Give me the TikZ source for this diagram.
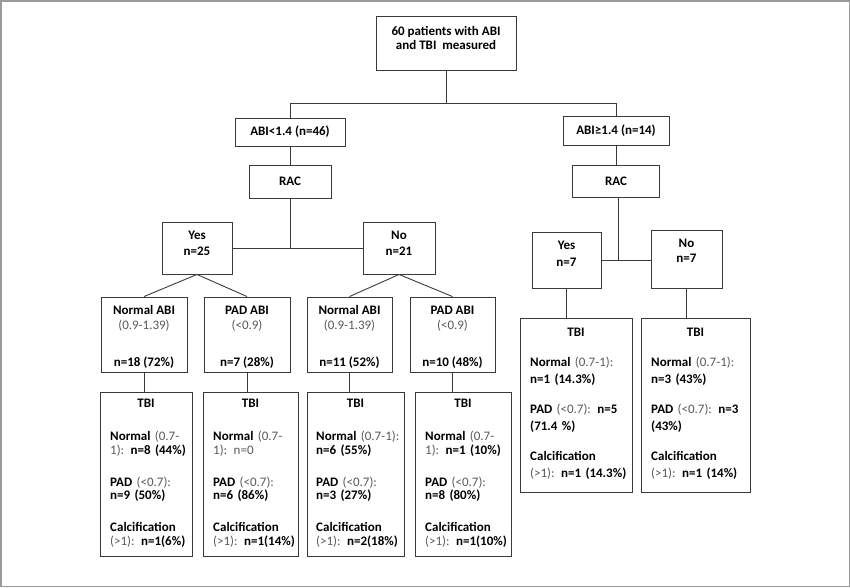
\documentclass[tikz,border=0pt]{standalone}
\usepackage{fontspec}
\setmainfont{Carlito}
\definecolor{txtgray}{HTML}{595959}
\definecolor{linec}{HTML}{3A3A3A}
\definecolor{framec}{HTML}{9A9A9A}
\newcommand{\rg}[1]{{\mdseries\color{txtgray}#1}}
\tikzset{
  box/.style={draw=linec, line width=0.9pt, inner sep=0pt, font=\fontsize{13}{14}\selectfont\bfseries},
  conn/.style={draw=linec, line width=0.9pt},
  lbl/.style={inner sep=0pt, align=center, anchor=north, font=\fontsize{13}{14}\selectfont\bfseries},
  hdr/.style={inner sep=0pt, anchor=base, font=\fontsize{13}{14}\selectfont\bfseries},
  body/.style={inner sep=0pt, align=left, anchor=north west, font=\fontsize{13}{13.5}\selectfont\bfseries},
  bodyr/.style={inner sep=0pt, align=left, anchor=north west, font=\fontsize{13}{17}\selectfont\bfseries},
}
\begin{document}
\begin{tikzpicture}[x=1pt,y=-1pt]
\useasboundingbox (0,0) rectangle (850,587);
\draw[framec, line width=1.5pt] (0.75,0.75) rectangle (849.25,586.25);

% top
\node[box, minimum width=140pt, minimum height=54pt] (top) at (446,43) {};
\node[lbl] (topT) at (446,26.5) {60 patients with ABI\\and TBI\ \ measured};

% level 2
\node[box, minimum width=110pt, minimum height=28pt] (abiL) at (290,132) {ABI<1.4 (n=46)};
\node[box, minimum width=106pt, minimum height=29pt] (abiR) at (616,130.5) {ABI≥1.4 (n=14)};

% RAC
\node[box, minimum width=82pt, minimum height=33pt] (racL) at (290,181.5) {RAC};
\node[box, minimum width=87pt, minimum height=32pt] (racR) at (616,181) {RAC};

% Yes/No left
\node[box, minimum width=70pt, minimum height=52pt] (yesL) at (197,248) {};
\node[lbl, font=\fontsize{13}{16}\selectfont\bfseries] (yesLT) at (197,230.5) {Yes\\n=25};
\node[box, minimum width=72pt, minimum height=52pt] (noL) at (399,248) {};
\node[lbl, font=\fontsize{13}{16}\selectfont\bfseries] (noLT) at (399,230.5) {No\\n=21};

% Yes/No right
\node[box, minimum width=69pt, minimum height=56pt] (yesR) at (566.5,260) {};
\node[lbl, font=\fontsize{13}{17}\selectfont\bfseries] (yesRT) at (566.5,240.5) {Yes\\n=7};
\node[box, minimum width=71pt, minimum height=58pt] (noR) at (686.5,259) {};
\node[lbl, font=\fontsize{13}{15.5}\selectfont\bfseries] (noRT) at (686.5,238.5) {No\\n=7};

% row 3
\node[box, minimum width=86pt, minimum height=75pt] (n1) at (144,334.5) {};
\node[lbl, font=\fontsize{13}{15}\selectfont\bfseries] (n1T) at (144,305.5) {Normal ABI\\\rg{(0.9-1.39)}\\[22pt]n=18 (72\%)};
\node[box, minimum width=86pt, minimum height=75pt] (p1) at (247,334.5) {};
\node[lbl, font=\fontsize{13}{15}\selectfont\bfseries] (p1T) at (247,305.5) {PAD ABI\\\rg{(<0.9)}\\[22pt]n=7 (28\%)};
\node[box, minimum width=85pt, minimum height=75pt] (n2) at (349.5,334.5) {};
\node[lbl, font=\fontsize{13}{15}\selectfont\bfseries] (n2T) at (349.5,305.5) {Normal ABI\\\rg{(0.9-1.39)}\\[22pt]n=11 (52\%)};
\node[box, minimum width=85pt, minimum height=75pt] (p2) at (452.5,334.5) {};
\node[lbl, font=\fontsize{13}{15}\selectfont\bfseries] (p2T) at (452.5,305.5) {PAD ABI\\\rg{(<0.9)}\\[22pt]n=10 (48\%)};

% TBI boxes left
\node[box, minimum width=92pt, minimum height=164pt] (t1) at (146,474) {};
\node[hdr] (t1H) at (146,407) {TBI};
\node[body, text width=84pt] (t1B) at (110,431) {Normal \rg{(0.7-}\\\rg{1):} n=8 (44\%)\\[18.5pt]PAD \rg{(<0.7):}\\n=9 (50\%)\\[18.5pt]Calcification\\\rg{(>1):} n=1(6\%)};
\node[box, minimum width=95pt, minimum height=164pt] (t2) at (250.5,474) {};
\node[hdr] (t2H) at (250.5,407) {TBI};
\node[body, text width=86pt] (t2B) at (213,431) {Normal \rg{(0.7-}\\\rg{1): n=0}\\[18.5pt]PAD \rg{(<0.7):}\\n=6 (86\%)\\[18.5pt]Calcification\\\rg{(>1):} n=1(14\%)};
\node[box, minimum width=97pt, minimum height=164pt] (t3) at (355.5,474) {};
\node[hdr] (t3H) at (355.5,407) {TBI};
\node[body, text width=88pt] (t3B) at (316,431) {Normal \rg{(0.7-1):}\\n=6 (55\%)\\[18.5pt]PAD \rg{(<0.7):}\\n=3 (27\%)\\[18.5pt]Calcification\\\rg{(>1):} n=2(18\%)};
\node[box, minimum width=96pt, minimum height=164pt] (t4) at (463,474) {};
\node[hdr] (t4H) at (463,407) {TBI};
\node[body, text width=88pt] (t4B) at (425,431) {Normal \rg{(0.7-}\\\rg{1):} n=1 (10\%)\\[18.5pt]PAD \rg{(<0.7):}\\n=8 (80\%)\\[18.5pt]Calcification\\\rg{(>1):} n=1(10\%)};

% TBI boxes right
\node[box, minimum width=112pt, minimum height=174pt] (r1) at (576,405) {};
\node[hdr] (r1H) at (576,336) {TBI};
\node[bodyr, text width=104pt] (r1B) at (530,357) {Normal \rg{(0.7-1):}\\n=1 (14.3\%)\\[13pt]PAD \rg{(<0.7):} n=5\\(71.4 \%)\\[13pt]Calcification\\\rg{(>1):} n=1 (14.3\%)};
\node[box, minimum width=109pt, minimum height=174pt] (r2) at (695.5,405) {};
\node[hdr] (r2H) at (695.5,336) {TBI};
\node[bodyr, text width=102pt] (r2B) at (651,357) {Normal \rg{(0.7-1):}\\n=3 (43\%)\\[13pt]PAD \rg{(<0.7):} n=3\\(43\%)\\[13pt]Calcification\\\rg{(>1):} n=1 (14\%)};

% connectors
\coordinate (j1) at (446,103);
\draw[conn] (top.south) -- (j1);
\draw[conn] (abiL.north) -- (abiL.north |- j1) -- (abiR.north |- j1) -- (abiR.north);
\draw[conn] (abiL.south) -- (racL.north);
\draw[conn] (abiR.south) -- (racR.north);
\coordinate (j2) at (290,248);
\draw[conn] (racL.south) -- (j2);
\draw[conn] (yesL.east) -- (noL.west);
\coordinate (j3) at (618,260);
\draw[conn] (racR.south -| j3) -- (j3);
\draw[conn] (yesR.east) -- (yesR.east -| noR.west);
\draw[conn] (yesL.south) -- (n1.north);
\draw[conn] (yesL.south) -- (p1.north);
\draw[conn] (noL.south) -- (n2.north);
\draw[conn] (noL.south) -- (p2.north);
\draw[conn] (n1.south) -- (n1.south |- t1.north);
\draw[conn] (p1.south) -- (p1.south |- t2.north);
\draw[conn] (n2.south) -- (n2.south |- t3.north);
\draw[conn] (p2.south) -- (p2.south |- t4.north);
\draw[conn] (yesR.south) -- (yesR.south |- r1.north);
\draw[conn] (noR.south) -- (noR.south |- r2.north);
\end{tikzpicture}
\end{document}
